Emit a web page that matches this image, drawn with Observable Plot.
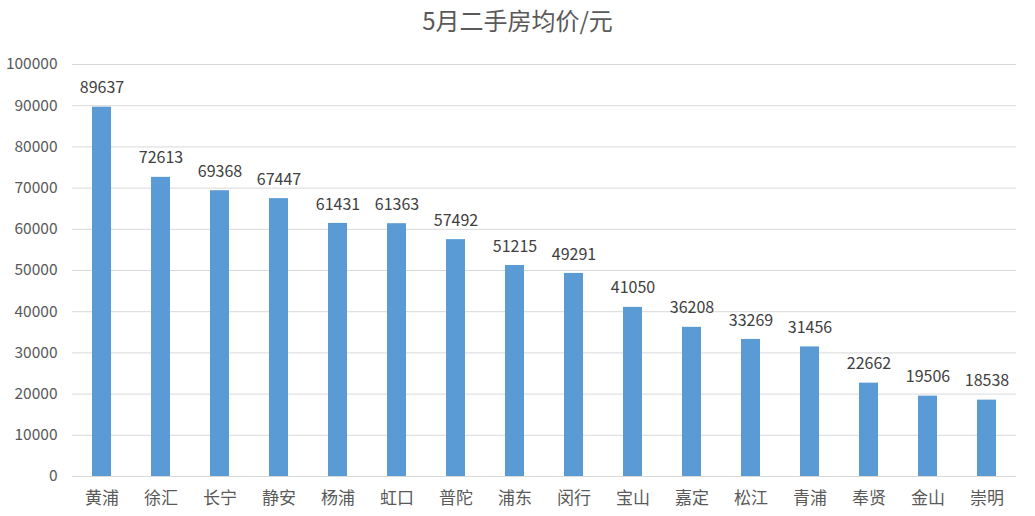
<!DOCTYPE html>
<html>
<head>
<meta charset="utf-8">
<script src="https://cdn.jsdelivr.net/npm/d3@7"></script>
<script src="https://cdn.jsdelivr.net/npm/@observablehq/plot@0.6"></script>
<style>
  html, body { margin: 0; padding: 0; background: #fff; }
  #title { height: 44px; line-height: 40px; text-align: center; font-family: "Noto Sans CJK SC", sans-serif; font-size: 24px; color: #595959; width: 1035px; }
</style>
</head>
<body>
<div id="title">5月二手房均价/元</div>
<div id="chart"></div>
<script>
const districts = ["黄浦","徐汇","长宁","静安","杨浦","虹口","普陀","浦东","闵行","宝山","嘉定","松江","青浦","奉贤","金山","崇明"];
const prices = [89637,72613,69368,67447,61431,61363,57492,51215,49291,41050,36208,33269,31456,22662,19506,18538];
const yTicks = [0,10000,20000,30000,40000,50000,60000,70000,80000,90000,100000];

const data = districts.map((d, i) => ({district: d, price: prices[i]}));

const chart = Plot.plot({
  width: 1035,
  height: 472,
  marginTop: 20,
  marginBottom: 40,
  marginLeft: 72,
  marginRight: 19,
  style: {fontFamily: "'Noto Sans CJK SC', sans-serif", fontSize: "15px", color: "#595959", background: "#fff"},
  x: {domain: districts, paddingInner: 0.68, paddingOuter: 0.34, label: null, tickSize: 0, tickPadding: 15},
  y: {domain: [0, 100000], ticks: yTicks, label: null, tickSize: 0, tickPadding: 15, grid: false},
  marks: [
    Plot.gridY(yTicks, {stroke: "#d9d9d9", strokeOpacity: 1}),
    Plot.barY(data, {x: "district", y: "price", fill: "#5B9BD5"}),
    Plot.text(data, {x: "district", y: "price", text: d => String(d.price), dy: -19, fill: "#404040", fontSize: 16}),
    Plot.axisX({tickSize: 0, tickPadding: 15, fontSize: 17, fill: "#595959"}),
    Plot.axisY(yTicks, {tickSize: 0, tickPadding: 15, fontSize: 15.5, fill: "#595959", tickFormat: d => String(d)})
  ]
});
document.getElementById("chart").appendChild(chart);
</script>
</body>
</html>
